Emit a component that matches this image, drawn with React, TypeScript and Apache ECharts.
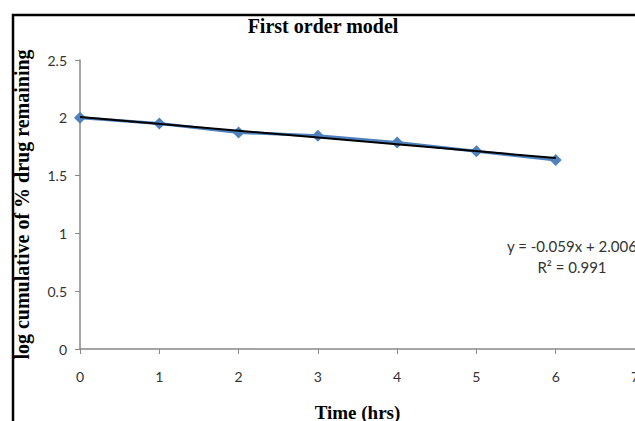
import React, { useEffect, useRef } from "react";
import * as echarts from "echarts";

const timeHrs = [0, 1, 2, 3, 4, 5, 6];
const logRemaining = [2.0, 1.951, 1.873, 1.845, 1.787, 1.71, 1.635];
const slope = -0.059;
const intercept = 2.006;
const trendX = [0, 6];
const equationText = "y = -0.059x + 2.006";
const r2Text = "R² = 0.991";

export default function App() {
  const ref = useRef<HTMLDivElement>(null);
  useEffect(() => {
    document.body.style.margin = "0";
    const chart = echarts.init(ref.current!, null, { renderer: "svg" });
    const axisColor = "#888888";
    const labelFont = { fontFamily: "Lato, 'Open Sans', sans-serif", fontSize: 14, color: "#333333" };
    chart.setOption({
      animation: false,
      backgroundColor: "#ffffff",
      title: {
        text: "First order model",
        left: 318,
        textAlign: "center",
        top: 11,
        textStyle: { fontFamily: "'Liberation Serif', serif", fontWeight: "bold", fontSize: 20, color: "#000" },
      },
      grid: { left: 80, right: 0, top: 60, bottom: 72, outerBoundsMode: "none", containLabel: false },
      xAxis: {
        type: "value",
        min: 0,
        max: 7,
        interval: 1,
        name: "Time (hrs)",
        nameLocation: "middle",
        nameGap: 54,
        nameTextStyle: { fontFamily: "'Liberation Serif', serif", fontWeight: "bold", fontSize: 19, color: "#000" },
        axisLine: { lineStyle: { color: axisColor, width: 1.5 } },
        axisTick: { show: true, length: 5, lineStyle: { color: axisColor } },
        axisLabel: { ...labelFont, margin: 20, showMaxLabel: true },
        splitLine: { show: false },
      },
      yAxis: {
        type: "value",
        min: 0,
        max: 2.5,
        interval: 0.5,
        name: "log cumulative of % drug remaining",
        nameLocation: "middle",
        nameGap: 48,
        nameTextStyle: { fontFamily: "'Liberation Serif', serif", fontWeight: "bold", fontSize: 20, color: "#000" },
        axisLine: { show: true, lineStyle: { color: axisColor, width: 1.5 } },
        axisTick: { show: true, length: 5, lineStyle: { color: axisColor } },
        axisLabel: { ...labelFont, margin: 13 },
        splitLine: { show: false },
      },
      series: [
        {
          type: "line",
          data: timeHrs.map((t, i) => [t, logRemaining[i]]),
          symbol: "diamond",
          symbolSize: 12,
          itemStyle: { color: "#4F81BD" },
          lineStyle: { color: "#4F81BD", width: 3 },
          z: 2,
        },
        {
          type: "line",
          data: trendX.map((x) => [x, slope * x + intercept]),
          symbol: "none",
          lineStyle: { color: "#000000", width: 2 },
          z: 3,
        },
      ],
      graphic: [
        {
          type: "rect",
          shape: { x: 13, y: 15, width: 700, height: 500 },
          style: { fill: "none", stroke: "#000", lineWidth: 2.5 },
          silent: true,
        },
        {
          type: "text",
          x: 507,
          y: 246,
          style: { text: equationText, fontFamily: "Lato, 'Open Sans', sans-serif", fontSize: 15, fill: "#333", textVerticalAlign: "middle" },
        },
        {
          type: "text",
          x: 572,
          y: 267,
          style: { text: r2Text, fontFamily: "Lato, 'Open Sans', sans-serif", fontSize: 15, fill: "#333", textAlign: "center", textVerticalAlign: "middle" },
        },
      ],
    });
    return () => chart.dispose();
  }, []);
  return <div ref={ref} style={{ width: 635, height: 421 }} />;
}
